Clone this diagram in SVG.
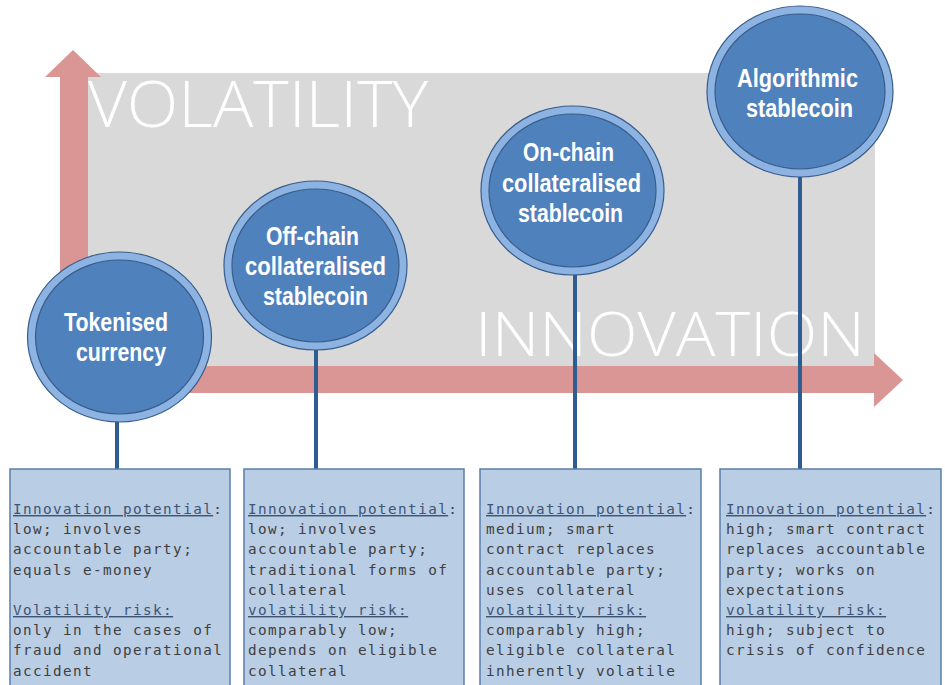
<svg xmlns="http://www.w3.org/2000/svg" width="945" height="685" viewBox="0 0 945 685">
<style>
.axis{fill:#d99694}
.bg{fill:#d9d9d9}
.big{fill:#ffffff;font-family:"Open Sans","Liberation Sans",sans-serif;font-weight:300}
.ring{fill:#8db3e2;stroke:#385d8a;stroke-width:1.2}
.core{fill:#4f81bd;stroke:#385d8a;stroke-width:1.2}
.lbl{fill:#ffffff;font-family:"Liberation Sans","DejaVu Sans",sans-serif;font-weight:bold;font-size:25px;text-anchor:middle}
.conn{stroke:#2f5d91;stroke-width:4;fill:none}
.box{fill:#b9cde5;stroke:#5b7eab;stroke-width:1.5}
.txt{fill:#404040;font-family:"DejaVu Sans Mono","Liberation Mono",monospace;font-size:14.3px;letter-spacing:1.4px}
.u{text-decoration:underline;fill:#3e5573}
</style>
<g id="axes">
<rect class="bg" x="88" y="73" width="787" height="293"/>
<rect class="axis" x="60" y="77" width="28" height="316"/>
<polygon class="axis" points="45,77 73,50 101,77"/>
<rect class="axis" x="60" y="366" width="815" height="27"/>
<polygon class="axis" points="874,353 903,380 874,407"/>
<text class="big" x="88" y="127" font-size="64" textLength="340" lengthAdjust="spacingAndGlyphs">VOLATILITY</text>
<text class="big" x="475" y="356" font-size="60" textLength="390" lengthAdjust="spacingAndGlyphs">INNOVATION</text>
</g>
<g id="connectors">
<line class="conn" x1="117" y1="420" x2="117" y2="470"/>
<line class="conn" x1="316" y1="348" x2="316" y2="470"/>
<line class="conn" x1="575" y1="273" x2="575" y2="470"/>
<line class="conn" x1="800" y1="175" x2="800" y2="470"/>
</g>
<g id="node-tokenised">
<ellipse class="ring" cx="119.5" cy="337" rx="92" ry="85"/>
<ellipse class="core" cx="119.5" cy="337" rx="84" ry="77"/>
<text class="lbl" x="116" y="331" textLength="104" lengthAdjust="spacingAndGlyphs">Tokenised</text>
<text class="lbl" x="121" y="361" textLength="90" lengthAdjust="spacingAndGlyphs">currency</text>
</g>
<g id="node-offchain">
<ellipse class="ring" cx="315.5" cy="265.5" rx="91.5" ry="84.5"/>
<ellipse class="core" cx="315.5" cy="265.5" rx="83.5" ry="76.5"/>
<text class="lbl" x="312.5" y="245" textLength="93" lengthAdjust="spacingAndGlyphs">Off-chain</text>
<text class="lbl" x="315.5" y="275" textLength="141" lengthAdjust="spacingAndGlyphs">collateralised</text>
<text class="lbl" x="315.5" y="305" textLength="105" lengthAdjust="spacingAndGlyphs">stablecoin</text>
</g>
<g id="node-onchain">
<ellipse class="ring" cx="572.5" cy="190.5" rx="91.5" ry="84.5"/>
<ellipse class="core" cx="572.5" cy="190.5" rx="83.5" ry="76.5"/>
<text class="lbl" x="568.5" y="161" textLength="91" lengthAdjust="spacingAndGlyphs">On-chain</text>
<text class="lbl" x="571.5" y="192" textLength="139" lengthAdjust="spacingAndGlyphs">collateralised</text>
<text class="lbl" x="570.5" y="222" textLength="105" lengthAdjust="spacingAndGlyphs">stablecoin</text>
</g>
<g id="node-algorithmic">
<ellipse class="ring" cx="800" cy="91.5" rx="93" ry="85.5"/>
<ellipse class="core" cx="800" cy="91.5" rx="85" ry="77.5"/>
<text class="lbl" x="797.5" y="87" textLength="121" lengthAdjust="spacingAndGlyphs">Algorithmic</text>
<text class="lbl" x="799.5" y="117" textLength="107" lengthAdjust="spacingAndGlyphs">stablecoin</text>
</g>
<g id="box-tokenised">
<rect class="box" x="10" y="469" width="220" height="230"/>
<text class="txt" x="13" y="514"><tspan class="u">Innovation potential</tspan>:</text>
<text class="txt" x="13" y="534.2">low; involves</text>
<text class="txt" x="13" y="554.4">accountable party;</text>
<text class="txt" x="13" y="574.6">equals e-money</text>
<text class="txt" x="13" y="615"><tspan class="u">Volatility risk:</tspan></text>
<text class="txt" x="13" y="635.2">only in the cases of</text>
<text class="txt" x="13" y="655.4">fraud and operational</text>
<text class="txt" x="13" y="675.6">accident</text>
</g>
<g id="box-offchain">
<rect class="box" x="244" y="469" width="220" height="230"/>
<text class="txt" x="248" y="514"><tspan class="u">Innovation potential</tspan>:</text>
<text class="txt" x="248" y="534.2">low; involves</text>
<text class="txt" x="248" y="554.4">accountable party;</text>
<text class="txt" x="248" y="574.6">traditional forms of</text>
<text class="txt" x="248" y="594.8">collateral</text>
<text class="txt" x="248" y="615"><tspan class="u">volatility risk:</tspan></text>
<text class="txt" x="248" y="635.2">comparably low;</text>
<text class="txt" x="248" y="655.4">depends on eligible</text>
<text class="txt" x="248" y="675.6">collateral</text>
</g>
<g id="box-onchain">
<rect class="box" x="480" y="469" width="221" height="230"/>
<text class="txt" x="486" y="514"><tspan class="u">Innovation potential</tspan>:</text>
<text class="txt" x="486" y="534.2">medium; smart</text>
<text class="txt" x="486" y="554.4">contract replaces</text>
<text class="txt" x="486" y="574.6">accountable party;</text>
<text class="txt" x="486" y="594.8">uses collateral</text>
<text class="txt" x="486" y="615"><tspan class="u">volatility risk:</tspan></text>
<text class="txt" x="486" y="635.2">comparably high;</text>
<text class="txt" x="486" y="655.4">eligible collateral</text>
<text class="txt" x="486" y="675.6">inherently volatile</text>
</g>
<g id="box-algorithmic">
<rect class="box" x="720" y="469" width="221" height="230"/>
<text class="txt" x="726" y="514"><tspan class="u">Innovation potential</tspan>:</text>
<text class="txt" x="726" y="534.2">high; smart contract</text>
<text class="txt" x="726" y="554.4">replaces accountable</text>
<text class="txt" x="726" y="574.6">party; works on</text>
<text class="txt" x="726" y="594.8">expectations</text>
<text class="txt" x="726" y="615"><tspan class="u">volatility risk:</tspan></text>
<text class="txt" x="726" y="635.2">high; subject to</text>
<text class="txt" x="726" y="655.4">crisis of confidence</text>
</g>
</svg>
